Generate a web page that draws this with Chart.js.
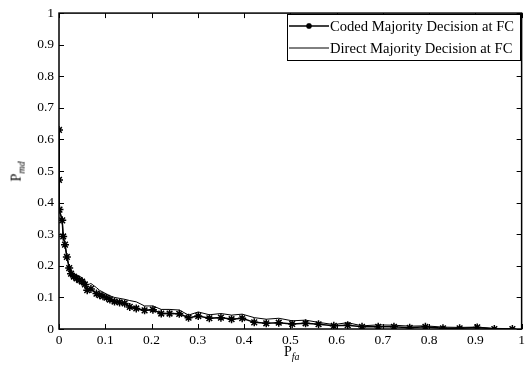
<!DOCTYPE html>
<html>
<head>
<meta charset="utf-8">
<script src="https://cdn.jsdelivr.net/npm/chart.js@4.4.1/dist/chart.umd.min.js"></script>
<style>
  html, body { margin: 0; padding: 0; background: #fff; }
  #wrap { position: relative; width: 526px; height: 365px; overflow: hidden; }
  #grafico { position: absolute; left: 0; top: 0; }
  .titulo { position: absolute; font-family: "Liberation Serif", serif; font-size: 14px; line-height: 14px; color: #000; white-space: nowrap; }
  .titulo sub { font-style: italic; font-size: 10px; }
</style>
</head>
<body>
<div id="wrap">
  <canvas id="grafico" width="528" height="365"></canvas>
  <div class="titulo" id="tituloX" style="left:284px; top:345px;">P<sub>fa</sub></div>
  <div class="titulo" id="tituloY" style="left:9px; top:162px; transform: rotate(-90deg); transform-origin: center;">P<sub>md</sub></div>
</div>
<script>
// --- dados ---
const pfaX = [0, 0, 0.001, 0.007, 0.009, 0.013, 0.017, 0.022, 0.026, 0.032,
  0.038, 0.044, 0.05, 0.056, 0.061, 0.069, 0.081, 0.088, 0.095, 0.103,
  0.11, 0.12, 0.131, 0.142, 0.153, 0.167, 0.185, 0.203, 0.221, 0.239,
  0.26, 0.28, 0.301, 0.325, 0.35, 0.373, 0.396, 0.422, 0.448, 0.475,
  0.504, 0.533, 0.561, 0.594, 0.624, 0.655, 0.69, 0.724, 0.758, 0.792,
  0.83, 0.866, 0.904, 0.941, 0.98];

const codificado = [0.63, 0.472, 0.378, 0.344, 0.293, 0.267, 0.228, 0.193, 0.175, 0.166,
  0.16, 0.155, 0.15, 0.141, 0.123, 0.127, 0.112, 0.107, 0.104, 0.099,
  0.093, 0.087, 0.084, 0.081, 0.07, 0.065, 0.059, 0.061, 0.049, 0.049,
  0.048, 0.036, 0.041, 0.034, 0.036, 0.031, 0.034, 0.021, 0.018, 0.02,
  0.016, 0.018, 0.015, 0.01, 0.012, 0.007, 0.007, 0.007, 0.004, 0.007,
  0.002, 0.002, 0.005, 0.0, 0.0];

const direto = [0.63, 0.472, 0.378, 0.344, 0.295, 0.268, 0.23, 0.198, 0.182, 0.175,
  0.171, 0.167, 0.162, 0.15, 0.139, 0.144, 0.131, 0.122, 0.117, 0.11,
  0.105, 0.1, 0.097, 0.094, 0.09, 0.086, 0.073, 0.073, 0.062, 0.062,
  0.06, 0.044, 0.054, 0.045, 0.049, 0.044, 0.047, 0.036, 0.031, 0.034,
  0.026, 0.028, 0.021, 0.014, 0.02, 0.01, 0.013, 0.012, 0.009, 0.01,
  0.006, 0.005, 0.006, 0.002, 0.001];

const ticksX = [0, 0.1, 0.2, 0.3, 0.4, 0.5, 0.6, 0.7, 0.8, 0.9, 1];
const ticksY = [0, 0.1, 0.2, 0.3, 0.4, 0.5, 0.6, 0.7, 0.8, 0.9, 1];
const nomes = ["Coded Majority Decision at FC", "Direct Majority Decision at FC"];

const fonte = "Liberation Serif";

// moldura + ticks para dentro (estilo matlab)
const moldura = {
  id: "moldura",
  afterDraw(chart) {
    const { ctx, chartArea: a, scales } = chart;
    ctx.save();
    ctx.strokeStyle = "#000";
    ctx.lineWidth = 1.5;
    ctx.strokeRect(a.left, a.top, a.right - a.left, a.bottom - a.top);
    ctx.lineWidth = 1;
    ctx.beginPath();
    ticksX.forEach(v => {
      const px = Math.round(scales.x.getPixelForValue(v)) + 0.5;
      ctx.moveTo(px, a.bottom); ctx.lineTo(px, a.bottom - 5);
      ctx.moveTo(px, a.top); ctx.lineTo(px, a.top + 5);
    });
    ticksY.forEach(v => {
      const py = Math.round(scales.y.getPixelForValue(v)) + 0.5;
      ctx.moveTo(a.left, py); ctx.lineTo(a.left + 5, py);
      ctx.moveTo(a.right, py); ctx.lineTo(a.right - 5, py);
    });
    ctx.stroke();

    // --- legenda com caixa ---
    const bx = 287, by = 14, bw = 233, bh = 46;
    ctx.fillStyle = "#fff";
    ctx.fillRect(bx, by, bw, bh);
    ctx.lineWidth = 1;
    ctx.strokeRect(bx + 0.5, by + 0.5, bw, bh);
    ctx.font = "14.6px '" + fonte + "'";
    ctx.fillStyle = "#000";
    ctx.textBaseline = "middle";
    const linhas = [by + 12, by + 34];
    chart.data.datasets.forEach((ds, i) => {
      const y = linhas[i];
      ctx.beginPath();
      ctx.lineWidth = ds.borderWidth;
      ctx.moveTo(bx + 2, y); ctx.lineTo(bx + 42, y);
      ctx.stroke();
      if (ds.pointRadius > 0) {
        Chart.helpers.drawPoint(ctx, { pointStyle: "star", radius: 3, borderWidth: 1.2, rotation: 0 }, bx + 22, y);
      }
      ctx.fillText(ds.label, bx + 43, y + 1);
    });
    ctx.restore();
  }
};

const ctx = document.getElementById("grafico").getContext("2d");

const rotulo = v => String(Math.round(v * 10) / 10);

new Chart(ctx, {
  type: "scatter",
  data: {
    datasets: [
      {
        label: nomes[0],
        data: pfaX.map((x, i) => ({ x: x, y: codificado[i] })),
        showLine: true,
        borderColor: "#000",
        backgroundColor: "#000",
        borderWidth: 1.5,
        pointStyle: "star",
        pointRadius: 4,
        pointBorderWidth: 1.5,
        pointBorderColor: "#000",
      },
      {
        label: nomes[1],
        data: pfaX.map((x, i) => ({ x: x, y: direto[i] })),
        showLine: true,
        borderColor: "#000",
        borderWidth: 1,
        pointRadius: 0,
      },
    ],
  },
  options: {
    responsive: false,
    animation: false,
    devicePixelRatio: 1,
    layout: { padding: { top: 12, right: 0, left: 0, bottom: 0 } },
    plugins: { legend: { display: false }, tooltip: { enabled: false } },
    scales: {
      x: {
        type: "linear",
        min: 0,
        max: 1,
        afterBuildTicks: s => { s.ticks = ticksX.map(v => ({ value: v })); },
        afterFit: s => { s.height = 36; },
        ticks: { color: "#000", font: { family: fonte, size: 13.5 }, padding: 3, maxRotation: 0, callback: rotulo },
        grid: { display: false, drawTicks: false },
        border: { display: false },
      },
      y: {
        type: "linear",
        min: 0,
        max: 1,
        afterBuildTicks: s => { s.ticks = ticksY.map(v => ({ value: v })); },
        afterFit: s => { s.width = 59; },
        ticks: { color: "#000", font: { family: fonte, size: 13.5 }, padding: 5, callback: rotulo },
        grid: { display: false, drawTicks: false },
        border: { display: false },
      },
    },
  },
  plugins: [moldura],
});
</script>
</body>
</html>
